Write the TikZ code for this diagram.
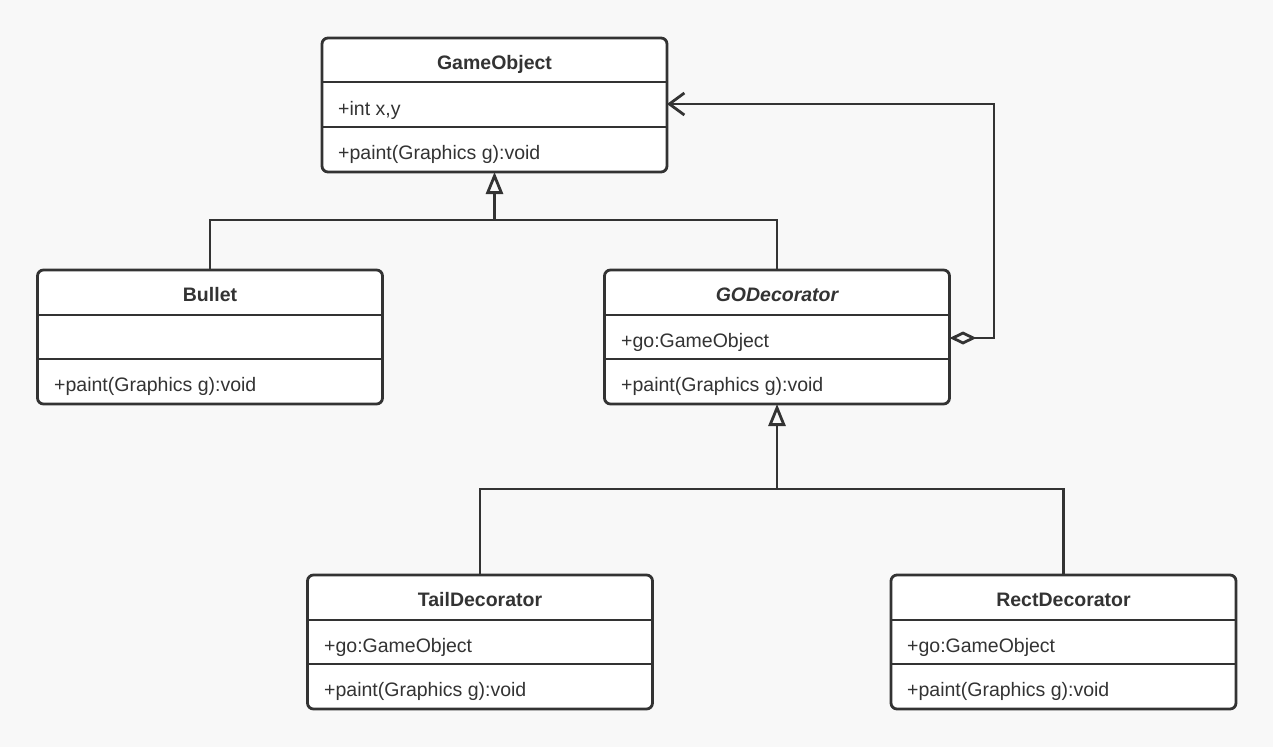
\documentclass[tikz,border=0pt]{standalone}
\usepackage{fontspec}
\setmainfont{Liberation Sans}
\usetikzlibrary{arrows.meta}
\definecolor{lc}{HTML}{333333}
\definecolor{bg}{HTML}{F8F8F8}
\tikzset{
  cls/.style={draw=lc, fill=white, line width=2.8pt, rounded corners=6pt, outer sep=0pt, inner sep=0pt, minimum width=345pt, minimum height=134pt},
  div/.style={draw=lc, line width=2.8pt},
  ttl/.style={font=\fontsize{19.5}{23}\selectfont\bfseries, text=lc, inner sep=0pt, anchor=base},
  mem/.style={font=\fontsize{19.5}{23}\selectfont, text=lc, anchor=base west, inner sep=0pt},
  conn/.style={draw=lc, line width=2.8pt},
  inh/.style={conn, -{Triangle[open, length=22pt, width=17pt, line width=2.8pt]}},
  agg/.style={conn, {Diamond[open, length=27pt, width=13pt, line width=2.8pt]}-{Straight Barb[length=15pt, width=22pt, line width=2.8pt]}}
}
\begin{document}
\begin{tikzpicture}[x=1pt, y=-1pt]
\fill[bg] (0,0) rectangle (1273,747);
\useasboundingbox (0,0) rectangle (1273,747);

% GameObject
\node[cls] (go) at (494.5,105) {};
\draw[div] (go.west |- 0,82) -- (go.east |- 0,82);
\draw[div] (go.west |- 0,127) -- (go.east |- 0,127);
\node[ttl] (goT) at (go.north |- 0,69) {GameObject};
\node[mem] (goA) at (338,115) {+int x,y};
\node[mem] (goM) at (338,159.5) {+paint(Graphics g):void};

% Bullet
\node[cls] (bul) at (210,337) {};
\draw[div] (bul.west |- 0,315) -- (bul.east |- 0,315);
\draw[div] (bul.west |- 0,359) -- (bul.east |- 0,359);
\node[ttl] (bulT) at (bul.north |- 0,301) {Bullet};
\node[mem] (bulM) at (54,391.5) {+paint(Graphics g):void};

% GODecorator
\node[cls] (god) at (777,337) {};
\draw[div] (god.west |- 0,315) -- (god.east |- 0,315);
\draw[div] (god.west |- 0,359) -- (god.east |- 0,359);
\node[ttl, font=\fontsize{19.5}{23}\selectfont\bfseries\itshape] (godT) at (god.north |- 0,301) {GODecorator};
\node[mem] (godA) at (621,347) {+go:GameObject};
\node[mem] (godM) at (621,391.5) {+paint(Graphics g):void};

% TailDecorator
\node[cls] (tail) at (480,642) {};
\draw[div] (tail.west |- 0,620) -- (tail.east |- 0,620);
\draw[div] (tail.west |- 0,664) -- (tail.east |- 0,664);
\node[ttl] (tailT) at (tail.north |- 0,606) {TailDecorator};
\node[mem] (tailA) at (324,652) {+go:GameObject};
\node[mem] (tailM) at (324,696.5) {+paint(Graphics g):void};

% RectDecorator
\node[cls] (rect) at (1063.5,642) {};
\draw[div] (rect.west |- 0,620) -- (rect.east |- 0,620);
\draw[div] (rect.west |- 0,664) -- (rect.east |- 0,664);
\node[ttl] (rectT) at (rect.north |- 0,606) {RectDecorator};
\node[mem] (rectA) at (907,652) {+go:GameObject};
\node[mem] (rectM) at (907,696.5) {+paint(Graphics g):void};

% inheritance 1
\coordinate (j1) at (go.south |- 0,220);
\draw[conn] (bul.north) |- (j1) -| (god.north);
\draw[inh] (j1) -- (go.south);

% inheritance 2
\coordinate (j2) at (god.south |- 0,489);
\draw[conn] (tail.north) |- (j2) -| (rect.north);
\draw[inh] (j2) -- (god.south);

% aggregation
\coordinate (c1) at (994,338);
\coordinate (c2) at (994,104);
\draw[agg] (god.east |- c1) -- (c1) -- (c2) -- (go.east |- c2);
\end{tikzpicture}
\end{document}
